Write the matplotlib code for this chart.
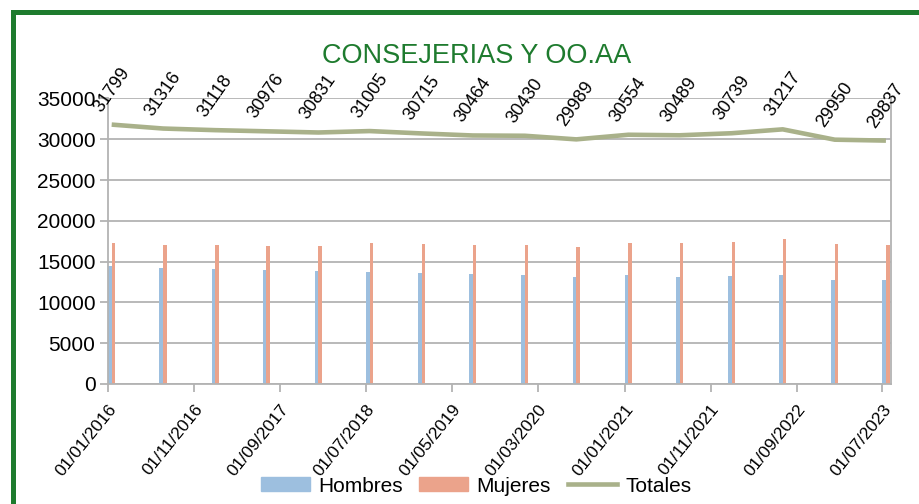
import datetime as dt

import matplotlib
matplotlib.use("Agg")
import matplotlib.pyplot as plt  # noqa: E402
import matplotlib.dates as mdates  # noqa: E402
from matplotlib.patches import Rectangle  # noqa: E402
from matplotlib.lines import Line2D  # noqa: E402

plt.rcParams["font.family"] = ["Liberation Sans", "DejaVu Sans"]

# Data
fechas = [
    "01/01/2016", "01/07/2016", "01/01/2017", "01/07/2017",
    "01/01/2018", "01/07/2018", "01/01/2019", "01/07/2019",
    "01/01/2020", "01/07/2020", "01/01/2021", "01/07/2021",
    "01/01/2022", "01/07/2022", "01/01/2023", "01/07/2023",
]
hombres = [14500, 14250, 14130, 14020, 13900, 13780, 13600, 13450,
           13400, 13150, 13330, 13150, 13300, 13420, 12750, 12800]
mujeres = [17300, 17066, 16988, 16956, 16931, 17225, 17115, 17014,
           17030, 16839, 17224, 17339, 17439, 17797, 17200, 17037]
totales = [31799, 31316, 31118, 30976, 30831, 31005, 30715, 30464,
           30430, 29989, 30554, 30489, 30739, 31217, 29950, 29837]
tick_fechas = [
    "01/01/2016", "01/11/2016", "01/09/2017", "01/07/2018", "01/05/2019",
    "01/03/2020", "01/01/2021", "01/11/2021", "01/09/2022", "01/07/2023",
]
titulo = "CONSEJERIAS Y OO.AA"

BLUE = "#9dbfdf"
SALMON = "#eba38b"
OLIVE = "#a9b18a"
GREEN = "#1e7b2e"
GRID = "#b3b3b3"


def parse(s):
    return dt.datetime.strptime(s, "%d/%m/%Y")


x = [parse(s) for s in fechas]
ticks = [parse(s) for s in tick_fechas]
w = dt.timedelta(days=13)

fig = plt.figure(figsize=(9.2, 5.04), dpi=100)
ax = fig.add_axes([0.1174, 0.2381, 0.9685 - 0.1174, 0.8046 - 0.2381])

ax.bar(x, hombres, width=13, align="edge", color=BLUE, zorder=2, label="Hombres")
ax.bar([d + w for d in x], mujeres, width=13, align="edge", color=SALMON,
       zorder=2, label="Mujeres")
xl = [d + w for d in x]
ax.plot(xl, totales, color=OLIVE, linewidth=3.3, zorder=3, label="Totales",
        solid_joinstyle="round", solid_capstyle="butt")

for xi, v in zip(xl, totales):
    ax.annotate(str(v), (xi, v), xytext=(0, 7), textcoords="offset points",
                ha="center", va="bottom", rotation=55, fontsize=13,
                annotation_clip=False)

ax.set_xlim(parse("01/01/2016"), parse("01/08/2023"))
ax.set_ylim(0, 35000)
ax.set_yticks(range(0, 35001, 5000))
ax.set_xticks(ticks)
ax.xaxis.set_major_formatter(mdates.DateFormatter("%d/%m/%Y"))
ax.tick_params(axis="y", labelsize=15, length=6, color=GRID, width=1.3, pad=3)
ax.tick_params(axis="x", labelsize=12.5, length=6, color=GRID, width=1.3, pad=7)
for lab in ax.get_xticklabels():
    lab.set_rotation(51)
    lab.set_ha("right")
    lab.set_va("top")
    lab.set_rotation_mode("anchor")

ax.grid(axis="y", color=GRID, linewidth=1.3, zorder=0)
for side in ["left", "bottom", "right"]:
    ax.spines[side].set_color(GRID)
    ax.spines[side].set_linewidth(1.3)
ax.spines["top"].set_visible(False)

fig.text(477 / 920, 1 - 56 / 504, titulo, color=GREEN, fontsize=19.5,
         ha="center", va="center")

handles = [
    Rectangle((0, 0), 1, 1, color=BLUE),
    Rectangle((0, 0), 1, 1, color=SALMON),
    Line2D([0], [0], color=OLIVE, linewidth=3.3),
]
fig.legend(handles, ["Hombres", "Mujeres", "Totales"], loc="center",
           bbox_to_anchor=(476 / 920, 1 - 486 / 504), ncol=3, frameon=False,
           fontsize=15, handlelength=2.35, handleheight=0.67,
           handletextpad=0.4, columnspacing=0.8, borderpad=0)

# green frame around the chart
fig.add_artist(Rectangle((13.5 / 920, -0.2), 1.2, 1 - 12.5 / 504 + 0.2,
                         transform=fig.transFigure, fill=False,
                         edgecolor=GREEN, linewidth=3.6, clip_on=False))

fig.savefig("out.png", dpi=100)
plt.close(fig)
